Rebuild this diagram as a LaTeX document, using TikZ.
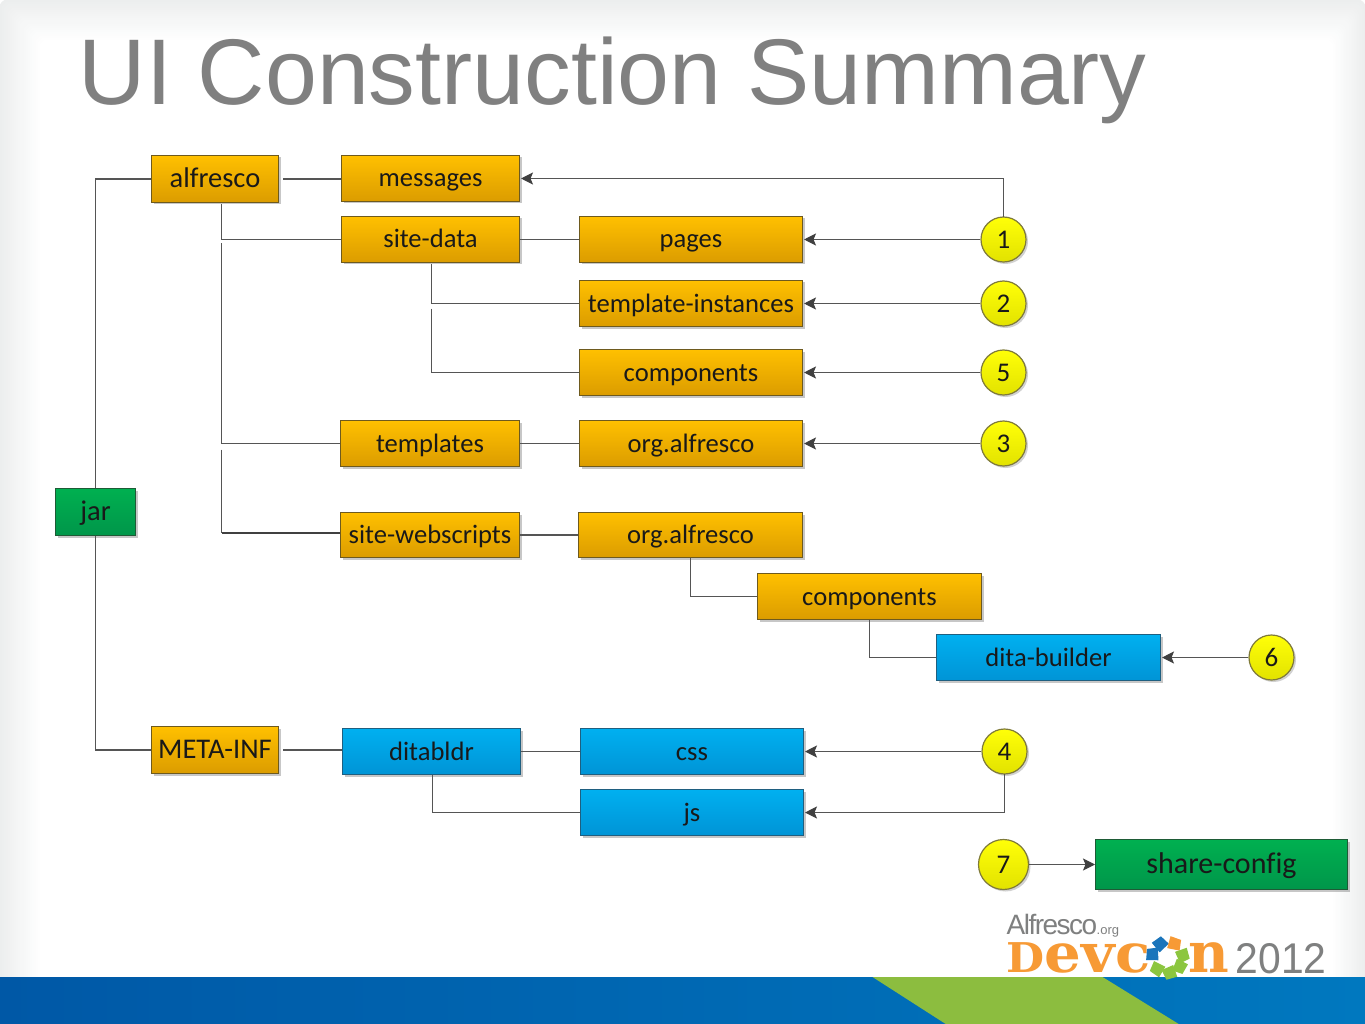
\documentclass[tikz,border=0pt]{standalone}
\usepackage{fontspec}
\setmainfont{Carlito}[Ligatures=NoCommon]
\newfontfamily\titlefont{Liberation Sans}
\newfontfamily\slabfont{DejaVu Serif}
\usetikzlibrary{shadows,arrows.meta}
\definecolor{boxedge}{HTML}{6E5A1E}
\definecolor{lineg}{HTML}{555555}
\definecolor{tipg}{HTML}{404040}
\definecolor{OTop}{HTML}{FFC000}
\definecolor{OBot}{HTML}{DB9C00}
\definecolor{BEdge}{HTML}{1F5F80}
\definecolor{BTop}{HTML}{00B0F0}
\definecolor{BBot}{HTML}{0094D6}
\definecolor{GEdge}{HTML}{1E5B36}
\definecolor{GTop}{HTML}{00B050}
\definecolor{GBot}{HTML}{00964A}
\definecolor{CEdge}{HTML}{7F7A3A}
\definecolor{CBot}{HTML}{E2E200}
\definecolor{edgeg}{HTML}{ECEEEE}
\definecolor{titleg}{HTML}{808080}
\definecolor{bandl}{HTML}{0058A6}
\definecolor{bandr}{HTML}{0078BF}
\definecolor{bandg}{HTML}{8CBD3F}
\definecolor{logoo}{HTML}{F79A35}
\definecolor{logog}{HTML}{7F8080}
\definecolor{logob}{HTML}{1B75BB}
\definecolor{logol}{HTML}{8CC63F}
\tikzset{
  basebox/.style={draw=#1, line width=1pt, inner sep=0pt, text=black!90,
    text height=22pt, text depth=5pt,
    font=\fontsize{26.6}{27}\selectfont,
    drop shadow={shadow xshift=2pt, shadow yshift=-2pt, opacity=.22, fill=black}},
  obox/.style={basebox=boxedge, top color=OTop, bottom color=OBot},
  bbox/.style={basebox=BEdge, top color=BTop, bottom color=BBot},
  gbox/.style={basebox=GEdge, top color=GTop, bottom color=GBot},
  bigt/.style={font=\fontsize{28.5}{29}\selectfont},
  numc/.style={circle, draw=CEdge, line width=1.2pt, inner sep=0pt, top color=yellow!97!white, bottom color=CBot,
    text=black!90, font=\fontsize{27}{27}\selectfont,
    drop shadow={shadow xshift=2pt, shadow yshift=-2pt, opacity=.18, fill=black}},
  conn/.style={draw=lineg, line width=1.15pt},
  arr/.style={conn, -{Stealth[length=12pt,width=12pt,inset=2.5pt,color=tipg]}, shorten >=1pt},
  logotext/.style={anchor=base west, inner sep=0pt}
}
\begin{document}
\begin{tikzpicture}[x=1pt,y=-1pt]
\useasboundingbox (0.5,0.5) rectangle (1365.5,1024.5);
% slide background
\foreach \i in {0,...,20}{
  \pgfmathtruncatemacro{\pc}{100-5*\i}
  \fill[edgeg!\pc!white, rounded corners=8pt] ({2*\i},{2*\i}) rectangle ({1366-1.6*\i},1025);
}
% bottom band
\shade[left color=bandl, right color=bandr, draw=none] (0,977.5) rectangle (1366,1025);
\fill[bandg] (873,977.5) -- (1103,977.5) -- (1180,1025) -- (947,1025) -- cycle;
% title
\node[anchor=base west, inner sep=0pt, text=titleg, font=\titlefont\fontsize{93.3}{94}\selectfont] (title) at (79,105.5) {UI Construction Summary};
% boxes
\node[gbox, bigt, minimum width=80pt, minimum height=47pt] (jar) at (96,512.5) {jar};
\node[obox, bigt, minimum width=127pt, minimum height=47pt] (alf) at (215.5,179.5) {alfresco};
\node[obox, minimum width=178pt, minimum height=46pt] (msg) at (431,179) {messages};
\node[obox, minimum width=178pt, minimum height=46pt] (sd) at (431,240) {site-data};
\node[obox, minimum width=223pt, minimum height=46pt] (pages) at (691.5,240) {pages};
\node[obox, minimum width=223pt, minimum height=46pt] (ti) at (691.5,304) {template-instances};
\node[obox, minimum width=223pt, minimum height=46pt] (comp) at (691.5,373) {components};
\node[obox, minimum width=179pt, minimum height=46pt] (tpl) at (430.5,444) {templates};
\node[obox, minimum width=223pt, minimum height=46pt] (org) at (691.5,444) {org.alfresco};
\node[obox, minimum width=179pt, minimum height=45pt] (sw) at (430.5,535.5) {site-webscripts};
\node[obox, minimum width=224pt, minimum height=45pt] (orgb) at (691,535.5) {org.alfresco};
\node[obox, minimum width=224pt, minimum height=46pt] (compb) at (870,597) {components};
\node[bbox, minimum width=224pt, minimum height=46pt] (dita) at (1049,658) {dita-builder};
\node[obox, bigt, minimum width=127pt, minimum height=47pt] (meta) at (215.5,750.5) {META-INF};
\node[bbox, minimum width=178pt, minimum height=46pt] (dbl) at (432,752) {ditabldr};
\node[bbox, minimum width=223pt, minimum height=46pt] (css) at (692.5,752) {css};
\node[bbox, minimum width=223pt, minimum height=46pt] (js) at (692.5,813) {js};
\node[gbox, minimum width=252pt, minimum height=50pt, font=\fontsize{30}{30}\selectfont] (share) at (1222,865) {share-config};
% numbered circles
\node[numc, minimum size=45pt] (n1) at (1004,240) {1};
\node[numc, minimum size=45pt] (n2) at (1004,304) {2};
\node[numc, minimum size=45pt] (n5) at (1004,373) {5};
\node[numc, minimum size=45pt] (n3) at (1004,444) {3};
\node[numc, minimum size=45pt] (n6) at (1272,658) {6};
\node[numc, minimum size=45pt] (n4) at (1005,752) {4};
\node[numc, minimum size=50pt] (n7) at (1004,865) {7};
% free line ends
\coordinate (a1) at (222,205);
\coordinate (a2) at (222,244);
\coordinate (a3) at (222,450);
\coordinate (a4) at (222,533.5);
\coordinate (s1) at (432,265);
\coordinate (s2) at (432,309);
\coordinate (o1) at (691,558);
\coordinate (c1) at (870,620);
\coordinate (d1) at (433,775);
\coordinate (f1) at (1004,217.5);
\coordinate (f4) at (1005,774.5);
% tree connectors
\draw[conn] (jar.north) |- (alf.west);
\draw[conn] (jar.south) |- (meta.west);
\draw[conn, shorten <=4pt] (alf.east) -- (alf.east -| msg.west);
\draw[conn] (a1) |- (sd.west);
\draw[conn] (a2) |- (tpl.west);
\draw[conn] (a3) -- (a4);
\draw[conn, line width=2pt, draw=tipg] (a4) -- (a4 -| sw.west);
\draw[conn] (sd.east) -- (pages.west);
\draw[conn] (s1) |- (ti.west);
\draw[conn] (s2) |- (comp.west);
\draw[conn] (tpl.east) -- (org.west);
\draw[conn] (sw.east) -- (orgb.west);
\draw[conn] (o1) |- (compb.west);
\draw[conn] (c1) |- (dita.west);
\draw[conn, shorten <=4pt] (meta.east) -- (meta.east -| dbl.west);
\draw[conn] (dbl.east) -- (css.west);
\draw[conn] (d1) |- (js.west);
% arrows
\draw[arr] (f1) |- (msg.east);
\draw[arr] (n1.west) -- (pages.east);
\draw[arr] (n2.west) -- (ti.east);
\draw[arr] (n5.west) -- (comp.east);
\draw[arr] (n3.west) -- (org.east);
\draw[arr] (n6.west) -- (dita.east);
\draw[arr] (n4.west) -- (css.east);
\draw[arr] (f4) |- (js.east);
\draw[arr, shorten >=0pt] (n7.east) -- (share.west);
% logo
\node[logotext, text=logog, font=\titlefont\fontsize{28}{28}\selectfont] (lg1) at (1007,935) {\addfontfeature{LetterSpace=-5.5}Alfresco};
\node[logotext, text=logog, font=\titlefont\fontsize{13}{13}\selectfont] (lg2) at (1097,935) {.org};
\node[logotext, text=logoo, xscale=1.07, font=\slabfont\bfseries\fontsize{54}{54}\selectfont] (lg3) at (1007,973) {{\fontsize{41}{41}\selectfont D}evc};
\node[logotext, anchor=base east, text=logoo, font=\slabfont\bfseries\fontsize{56}{56}\selectfont] (lg4) at (1230,973) {n};
\node[logotext, text=logog, xscale=.95, font=\titlefont\fontsize{43}{43}\selectfont] (lg5) at (1236,974) {2012};
\begin{scope}[shift={(1168,958)}]
\foreach \ang/\col in {115/logob, 165/logob, 60/logoo, 5/logol, -40/logol, -85/logol, -135/logol}{
  \fill[fill=\col, rotate=\ang] (8,-5) -- (20,-8) -- (22,3) -- (12,7) -- cycle;
}
\end{scope}
\end{tikzpicture}
\end{document}
